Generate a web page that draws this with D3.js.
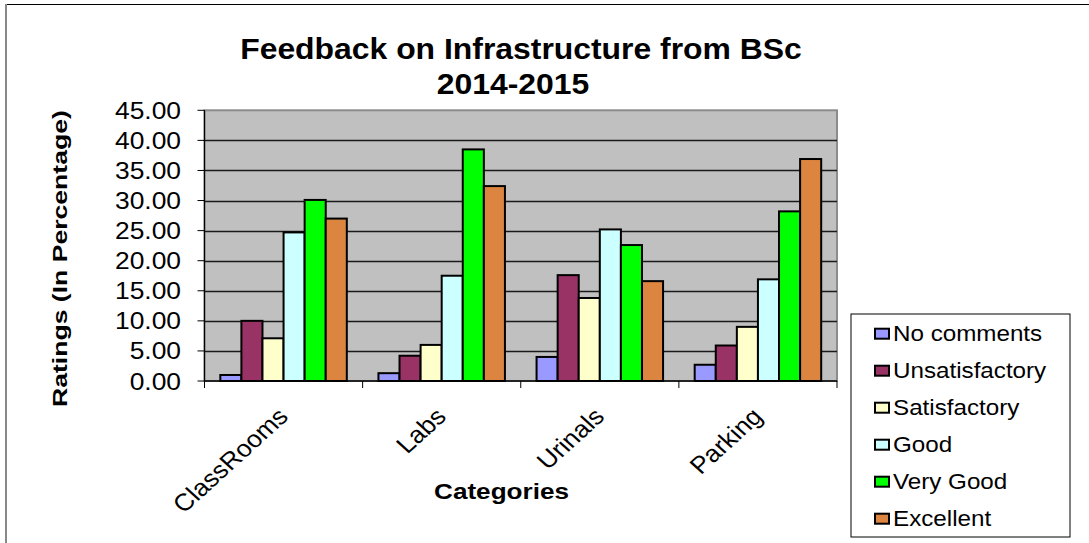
<!DOCTYPE html>
<html>
<head>
<meta charset="utf-8">
<script src="https://cdn.jsdelivr.net/npm/d3@7"></script>
<style>
  html, body { margin: 0; padding: 0; background: #fff; }
  svg { display: block; font-family: Arial, "Liberation Sans", sans-serif; }
</style>
</head>
<body>
<svg id="chart" width="1089" height="543"></svg>
<script>
// ---- data ----
const categories = ["ClassRooms", "Labs", "Urinals", "Parking"];
const seriesNames = ["No comments", "Unsatisfactory", "Satisfactory", "Good", "Very Good", "Excellent"];
const noComments     = [1.0, 1.3, 4.0, 2.7];
const unsatisfactory = [10.0, 4.2, 17.6, 5.9];
const satisfactory   = [7.1, 6.0, 13.8, 9.0];
const good           = [24.7, 17.5, 25.2, 16.9];
const veryGood       = [30.1, 38.5, 22.6, 28.2];
const excellent      = [27.0, 32.4, 16.6, 36.9];
const seriesColors   = ["#9999FF", "#993366", "#FFFFCC", "#CCFFFF", "#00FF00", "#DC8540"];
const yTicks = [0, 5, 10, 15, 20, 25, 30, 35, 40, 45];
const titleLines = ["Feedback on Infrastructure from BSc", "2014-2015"];
const yTitle = "Ratings (In Percentage)";
const xTitle = "Categories";

const seriesValues = [noComments, unsatisfactory, satisfactory, good, veryGood, excellent];

const svg = d3.select("#chart");
const SX = 1.1; // horizontal stretch of the reference picture

// outer frame
svg.append("rect").attr("x", 5.5).attr("y", 4.5).attr("width", 1200).attr("height", 700)
  .attr("fill", "#fff").attr("stroke", "#000").attr("stroke-width", 1);
svg.append("line").attr("x1", 6).attr("x2", 6).attr("y1", 4).attr("y2", 543)
  .attr("stroke", "#888").attr("stroke-width", 2);

// plot geometry
const plot = { left: 204.5, right: 837, top: 110.3, bottom: 381 };

const x0 = d3.scaleBand().domain(categories).range([plot.left, plot.right]).padding(0);
const x1 = d3.scaleBand().domain(seriesNames).range([0, x0.bandwidth()]).paddingInner(0).paddingOuter(0.75);
const y = d3.scaleLinear().domain([0, 45]).range([plot.bottom, plot.top]);

// plot background
svg.append("rect").attr("x", plot.left).attr("y", plot.top)
  .attr("width", plot.right - plot.left).attr("height", plot.bottom - plot.top)
  .attr("fill", "#C0C0C0").attr("stroke", "#8c8c8c").attr("stroke-width", 2);

// gridlines
svg.append("g").selectAll("line").data(yTicks.filter(d => d > 0 && d < 45)).join("line")
  .attr("x1", plot.left).attr("x2", plot.right)
  .attr("y1", d => Math.round(y(d)) + 0.5).attr("y2", d => Math.round(y(d)) + 0.5)
  .attr("stroke", "#1a1a1a").attr("stroke-width", 1.3);

// bars
const groups = svg.append("g").selectAll("g").data(categories).join("g")
  .attr("transform", d => `translate(${x0(d)},0)`);
groups.selectAll("rect").data((c, ci) => seriesNames.map((s, si) => ({ s, si, v: seriesValues[si][ci] })))
  .join("rect")
  .attr("x", d => x1(d.s)).attr("width", x1.bandwidth())
  .attr("y", d => y(d.v)).attr("height", d => y(0) - y(d.v))
  .attr("fill", d => seriesColors[d.si]).attr("stroke", "#000").attr("stroke-width", 2);

// axes lines
svg.append("line").attr("x1", plot.left).attr("x2", plot.left).attr("y1", plot.top).attr("y2", plot.bottom)
  .attr("stroke", "#000").attr("stroke-width", 1.2);
svg.append("line").attr("x1", plot.left).attr("x2", plot.right).attr("y1", plot.bottom).attr("y2", plot.bottom)
  .attr("stroke", "#000").attr("stroke-width", 1.5);

// y ticks + labels
const yAx = svg.append("g");
yAx.selectAll("line").data(yTicks).join("line")
  .attr("x1", plot.left - 7).attr("x2", plot.left)
  .attr("y1", d => y(d)).attr("y2", d => y(d)).attr("stroke", "#000").attr("stroke-width", 1);
yAx.selectAll("g").data(yTicks).join("g")
  .attr("transform", d => `translate(181,${y(d) + 8.5}) scale(${SX},1)`)
  .append("text").attr("text-anchor", "end").attr("font-size", 24).attr("fill", "#000")
  .text(d => d3.format(".2f")(d));

// x ticks (category boundaries)
const bounds = categories.map(c => x0(c)).concat([plot.right]);
svg.append("g").selectAll("line").data(bounds).join("line")
  .attr("x1", d => d).attr("x2", d => d).attr("y1", plot.bottom).attr("y2", plot.bottom + 7)
  .attr("stroke", "#000").attr("stroke-width", 1);

// category labels rotated
svg.append("g").selectAll("g").data(categories).join("g")
  .attr("transform", d => `translate(${x0(d) + x0.bandwidth() / 2 + 6},${plot.bottom + 37}) scale(${SX},1) rotate(-45)`)
  .append("text").attr("text-anchor", "end").attr("font-size", 24).attr("fill", "#000")
  .text(d => d);

// title
const tPos = [[521, 59], [513, 94]];
svg.append("g").selectAll("g").data(titleLines).join("g")
  .attr("transform", (d, i) => `translate(${tPos[i][0]},${tPos[i][1]}) scale(${SX},1)`)
  .append("text").attr("text-anchor", "middle").attr("font-size", 29).attr("font-weight", "bold")
  .text(d => d);

// y title
svg.append("g").attr("transform", `translate(67,258.6) rotate(-90) scale(1.33,1)`)
  .append("text").attr("text-anchor", "middle").attr("font-size", 20).attr("font-weight", "bold")
  .text(yTitle);

// x title
svg.append("g").attr("transform", `translate(501.5,499) scale(1.187,1)`)
  .append("text").attr("text-anchor", "middle").attr("font-size", 22).attr("font-weight", "bold")
  .text(xTitle);

// legend
svg.append("rect").attr("x", 851).attr("y", 314).attr("width", 219).attr("height", 223)
  .attr("fill", "#fff").attr("stroke", "#000").attr("stroke-width", 1);
const leg = svg.append("g").selectAll("g").data(seriesNames).join("g")
  .attr("transform", (d, i) => `translate(0,${340.7 + i * 37})`);
leg.append("rect").attr("x", 875).attr("y", -12).attr("width", 14).attr("height", 10)
  .attr("fill", (d, i) => seriesColors[i]).attr("stroke", "#000").attr("stroke-width", 2);
leg.append("g").attr("transform", `translate(893,0) scale(${SX},1)`)
  .append("text").attr("font-size", 22).attr("fill", "#000").text(d => d);
</script>
</body>
</html>
